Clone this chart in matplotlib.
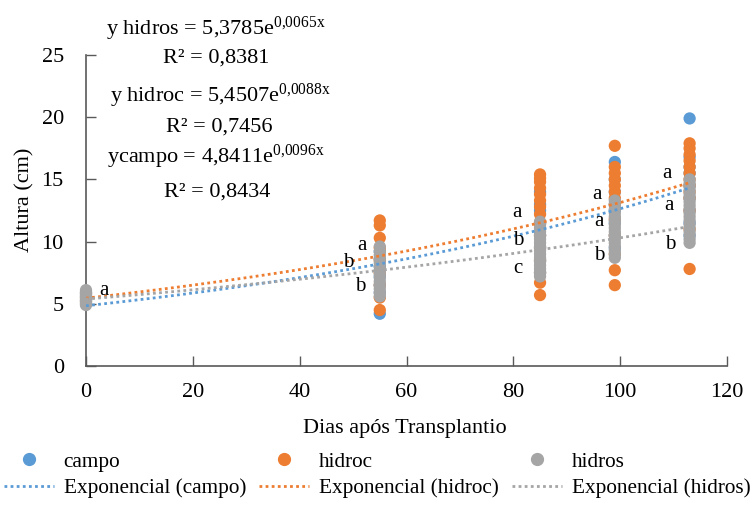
import numpy as np
import matplotlib
matplotlib.use("Agg")
import matplotlib.pyplot as plt
from matplotlib.lines import Line2D

plt.rcParams['font.family'] = ['Liberation Serif', 'DejaVu Serif']
plt.rcParams['mathtext.fontset'] = 'custom'
plt.rcParams['mathtext.rm'] = 'Liberation Serif'
plt.rcParams['mathtext.it'] = 'Liberation Serif:italic'

# ---------------- data ----------------
days = [0, 55, 85, 99, 113]

campo_vals = [
    [5.0, 5.3, 5.6, 5.9],
    [4.2, 5.9, 6.5, 7.2, 8.0, 8.6, 9.2],
    [7.5, 8.5, 9.5, 10.5, 11.5, 12.5, 13.0, 14.0],
    [9.5, 10.5, 11.5, 12.5, 13.0, 14.0, 15.0, 16.4],
    [10.5, 11.5, 12.5, 13.5, 14.5, 15.5, 16.0, 16.8, 19.9],
]
hidroc_vals = [
    [5.2, 5.5, 5.8],
    [4.5, 5.5, 6.5, 7.5, 8.5, 9.5, 10.3, 11.3, 11.7],
    [5.7, 6.7, 7.5, 8.5, 9.5, 10.5, 11.5, 12.2, 12.8, 13.3, 13.8, 14.3, 14.8, 15.1, 15.4],
    [6.5, 7.7, 9.0, 10.5, 11.8, 13.0, 13.5, 14.0, 14.5, 15.0, 15.5, 16.0, 17.7],
    [7.8, 11.0, 12.5, 13.5, 14.0, 14.5, 15.0, 15.5, 16.0, 16.5, 17.0, 17.5, 17.9],
]
hidros_vals = [
    [4.9, 5.1, 5.3, 5.5, 5.7, 5.9, 6.1],
    [5.6, 5.9, 6.2, 6.5, 6.8, 7.1, 7.4, 7.7, 8.0, 8.3, 8.6, 8.9, 9.2, 9.6],
    [7.2, 7.5, 7.8, 8.1, 8.4, 8.7, 9.0, 9.3, 9.6, 9.9, 10.2, 10.5, 10.8, 11.1, 11.4, 11.6],
    [8.7, 9.0, 9.3, 9.6, 9.9, 10.2, 10.5, 10.8, 11.1, 11.4, 11.7, 12.0, 12.3, 12.6, 12.9, 13.3],
    [9.9, 10.2, 10.5, 10.8, 11.1, 11.4, 11.7, 12.0, 12.3, 12.6, 12.9, 13.2, 13.5, 13.8, 14.1, 14.4, 14.7, 15.0],
]

# exponential trend coefficients (a, b): y = a * exp(b x)
trend_campo = [4.8411, 0.0096]
trend_hidroc = [5.4507, 0.0088]
trend_hidros = [5.3785, 0.0065]

eq_texts = [
    "y hidros = 5,3785e$^{\\mathrm{0{,}0065x}}$", "R² = 0,8381",
    "y hidroc = 5,4507e$^{\\mathrm{0{,}0088x}}$", "R² = 0,7456",
    "ycampo = 4,8411e$^{\\mathrm{0{,}0096x}}$", "R² = 0,8434",
]

letters = ["a", "a", "b", "b", "a", "b", "c", "a", "a", "b", "a", "a", "b"]
letter_x = [3.4, 51.7, 49.1, 51.3, 80.7, 80.9, 80.9, 95.7, 96.1, 96.1, 108.8, 109.2, 109.4]
letter_y = [6.1, 9.7, 8.3, 6.4, 12.3, 10.1, 7.8, 13.8, 11.6, 8.9, 15.5, 12.9, 9.8]

xticks = [0, 20, 40, 60, 80, 100, 120]
yticks = [0, 5, 10, 15, 20, 25]

# ---------------- style ----------------
C_BLUE = '#5B9BD5'
C_ORANGE = '#ED7D31'
C_GRAY = '#A5A5A5'
AX_COL = '#595959'

W, H = 753, 512
fig = plt.figure(figsize=(W / 100, H / 100), dpi=100)
ax = fig.add_axes([86 / W, 1 - 366 / H, 641 / W, 311 / H])


def flat(vals):
    xs, ys = [], []
    for d, v in zip(days, vals):
        xs += [d] * len(v)
        ys += v
    return xs, ys


ms = 78
for vals, col in [(campo_vals, C_BLUE), (hidroc_vals, C_ORANGE), (hidros_vals, C_GRAY)]:
    xs, ys = flat(vals)
    ax.scatter(xs, ys, s=ms, color=col, edgecolors='none', zorder=3, clip_on=False)

xt = np.linspace(0, max(days), 200)
for (a, b), col in [(trend_campo, C_BLUE), (trend_hidroc, C_ORANGE), (trend_hidros, C_GRAY)]:
    ax.plot(xt, a * np.exp(b * xt), color=col, lw=2.0, linestyle=(0, (1, 1.2)),
            dash_capstyle='butt', zorder=4)

for t, x, y in zip(letters, letter_x, letter_y):
    ax.text(x, y, t, ha='center', va='center', fontsize=15, zorder=5)

ax.set_xlim(0, 120)
ax.set_ylim(0, 25)
ax.set_xticks(xticks)
ax.set_yticks(yticks)
ax.tick_params(axis='both', direction='in', length=7, width=1, color=AX_COL,
               labelsize=16, labelcolor='black')
ax.tick_params(axis='y', pad=16)
ax.tick_params(axis='x', pad=12)
for s in ['top', 'right']:
    ax.spines[s].set_visible(False)
for s in ['left', 'bottom']:
    ax.spines[s].set_color(AX_COL)
    ax.spines[s].set_linewidth(1.2)

fig.text(405 / W, 1 - 428 / H, "Dias após Transplantio", ha='center', va='center', fontsize=16)
fig.text(25 / W, 1 - 200 / H, "Altura (cm)", ha='center', va='center', rotation=90, fontsize=16)

eq_x = [216, 216, 220, 219, 216, 217]
eq_base = [35, 63, 102, 132, 163, 197]
for t, x, yb in zip(eq_texts, eq_x, eq_base):
    fig.text(x / W, 1 - yb / H, t, ha='center', va='baseline', fontsize=16)

handles = [
    Line2D([], [], marker='o', linestyle='none', color=C_BLUE, markersize=8.5),
    Line2D([], [], color=C_BLUE, lw=2, linestyle=(0, (1, 1.2))),
    Line2D([], [], marker='o', linestyle='none', color=C_ORANGE, markersize=8.5),
    Line2D([], [], color=C_ORANGE, lw=2, linestyle=(0, (1, 1.2))),
    Line2D([], [], marker='o', linestyle='none', color=C_GRAY, markersize=8.5),
    Line2D([], [], color=C_GRAY, lw=2, linestyle=(0, (1, 1.2))),
]
labels = ["campo", "Exponencial (campo)", "hidroc", "Exponencial (hidroc)",
          "hidros", "Exponencial (hidros)"]
fig.legend(handles, labels, ncol=3, loc='upper left', bbox_to_anchor=(4 / W, 1 - 452 / H),
           frameon=False, fontsize=15.3, handlelength=2.35, handletextpad=0.46,
           columnspacing=0.62, labelspacing=0.3, borderpad=0, borderaxespad=0)

fig.savefig("out.png", dpi=100)
